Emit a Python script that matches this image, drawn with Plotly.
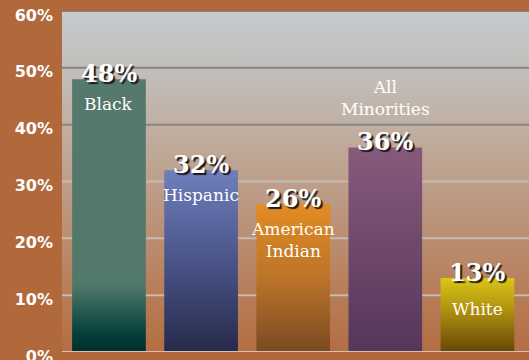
import plotly.graph_objects as go

# ---- data ----
categories = ["Black", "Hispanic", "American Indian", "All Minorities", "White"]
cat_labels = ["Black", "Hispanic", "American<br>Indian", "All<br>Minorities", "White"]
values = [48, 32, 26, 36, 13]
value_labels = ["48%", "32%", "26%", "36%", "13%"]
tick_values = [0, 10, 20, 30, 40, 50, 60]
tick_labels = ["0%", "10%", "20%", "30%", "40%", "50%", "60%"]

# ---- styles ----
BG = "#B1693C"
bar_scales = [
    [[0, "#022C2A"], [0.07, "#05403B"], [0.16, "#2A5E55"], [0.25, "#52786A"], [1, "#55796C"]],
    [[0, "#262A4A"], [0.5, "#4A5488"], [1, "#6F7EBC"]],
    [[0, "#7A4A22"], [0.5, "#BC742A"], [1, "#E38C22"]],
    [[0, "#55365A"], [1, "#875A7B"]],
    [[0, "#654607"], [0.5, "#A8880E"], [1, "#DAC616"]],
]
label_shift = [-25, -25, -36, 49, -31]
BAR_W = 0.8
X0, X1 = -0.51, 4.56

fig = go.Figure()

# plot-area gradient background
fig.add_trace(go.Scatter(
    x=[X0, X1, X1, X0, X0], y=[0, 0, 60, 60, 0], mode="lines",
    line=dict(width=0), fill="toself", hoverinfo="skip",
    fillgradient=dict(type="vertical", start=0, stop=60, colorscale=[
        [0, "#B46E42"], [0.17, "#B77D58"], [0.33, "#BA8E72"], [0.5, "#BD9F8A"],
        [0.67, "#C0B0A3"], [0.83, "#C2BFBC"], [1, "#C4CACD"]]),
))

# gridlines
dark_x, dark_y, light_x, light_y = [], [], [], []
for v in tick_values[1:]:
    if v >= 40:
        dark_x += [X0, X1, None]; dark_y += [v, v, None]
    else:
        light_x += [X0, X1, None]; light_y += [v, v, None]
fig.add_trace(go.Scatter(x=dark_x, y=dark_y, mode="lines",
                         line=dict(color="#868584", width=2), hoverinfo="skip"))
fig.add_trace(go.Scatter(x=light_x, y=light_y, mode="lines",
                         line=dict(color="#C6BAB2", width=2), hoverinfo="skip"))

# bars (gradient filled)
for i, (v, cs) in enumerate(zip(values, bar_scales)):
    xl, xr = i - BAR_W / 2, i + BAR_W / 2
    fig.add_trace(go.Scatter(
        x=[xl, xr, xr, xl, xl], y=[0, 0, v, v, 0], mode="lines",
        line=dict(width=0), fill="toself", hoverinfo="skip", name=categories[i],
        fillgradient=dict(type="vertical", start=0, stop=v, colorscale=cs),
    ))

# baseline
fig.add_trace(go.Scatter(x=[X0, X1], y=[0, 0], mode="lines",
                         line=dict(color="#D6C2B4", width=2), hoverinfo="skip"))

# labels
for i, (v, vl, cl) in enumerate(zip(values, value_labels, cat_labels)):
    fig.add_annotation(
        x=i, y=v, text=vl, showarrow=False, yanchor="middle", yshift=6,
        font=dict(family="DejaVu Serif", size=24, color="white", weight="bold",
                  shadow="2px 2px 1px #1a1a1a"),
    )
    fig.add_annotation(
        x=i, y=v, text=cl, showarrow=False, yanchor="middle", yshift=label_shift[i],
        font=dict(family="DejaVu Serif", size=17, color="white"),
    )

fig.update_layout(
    width=529, height=360,
    margin=dict(l=62, r=0, t=11, b=8),
    paper_bgcolor=BG, plot_bgcolor=BG,
    showlegend=False,
    xaxis=dict(range=[X0, X1], showgrid=False, zeroline=False,
               showticklabels=False, fixedrange=True, automargin=False),
    yaxis=dict(range=[0, 60], showgrid=False, zeroline=False,
               tickvals=tick_values, ticktext=tick_labels,
               ticklabelstandoff=8, ticklabelshift=4, ticklabeloverflow="allow",
               tickfont=dict(family="DejaVu Sans", size=16, color="white", weight="bold"),
               fixedrange=True, automargin=False),
)

fig.write_html("out.html")
